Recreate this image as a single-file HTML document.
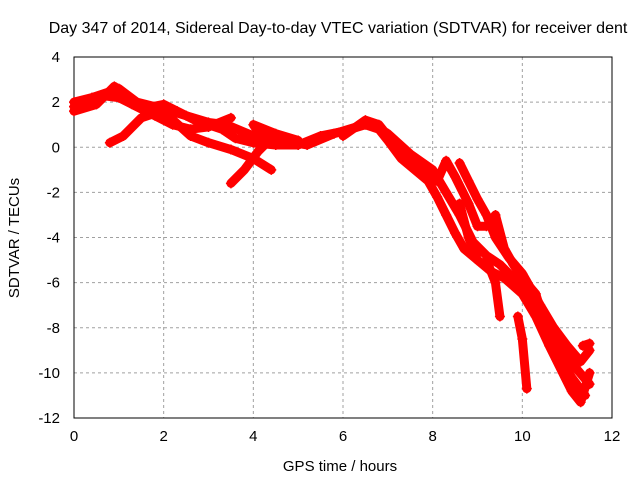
<!DOCTYPE html>
<html><head><meta charset="utf-8"><style>
body{margin:0;background:#fff}
svg text{font-family:"Liberation Sans",sans-serif;font-size:15px;fill:#000}
svg text.title{font-size:16px}
</style></head><body>
<svg id="c" width="640" height="480"></svg>
<script>
const xTicks=[0,2,4,6,8,10,12];
const yTicks=[4,2,0,-2,-4,-6,-8,-10,-12];
const trackA=[[0,1.8],[0.3,2.1],[0.6,2.3],[1,2.2],[1.5,1.7],[2,1.9],[2.3,1.6],[2.7,1.2],[3,1.0],[3.3,0.8],[3.6,0.4],[4,0.2],[4.5,0.1],[5,0.1],[5.5,0.5],[6,0.7],[6.5,1.0],[6.8,0.8],[7,0.3],[7.3,-0.5],[7.6,-1.0],[7.9,-1.5],[8.1,-2.2],[8.3,-3],[8.5,-3.8],[8.7,-4.5],[9,-5],[9.3,-5.5],[9.6,-5.8],[10,-6.5],[10.3,-7.5],[10.6,-8.8],[10.9,-10],[11.1,-10.8],[11.3,-11.3],[11.5,-10]];
const trackA2=[[0,2.0],[0.4,2.2],[1.0,2.6],[1.4,2.0],[2.0,1.7],[2.5,1.4],[3,1.1],[3.4,1.0],[4,0.5],[4.6,0.3],[5.2,0.1],[5.8,0.6],[6.3,0.9],[6.6,1.1],[7.0,0.6],[7.5,-0.3],[8,-1.0],[8.3,-2.0],[8.6,-3.0],[8.9,-4.2],[9.2,-4.8],[9.5,-5.2],[9.9,-6.0],[10.2,-7.0],[10.5,-8.2],[10.8,-9.2],[11.1,-10.2],[11.4,-11.0]];
const trackB=[[0,1.6],[0.5,1.9],[0.9,2.7],[1.1,2.4],[1.3,1.9],[1.8,1.4],[2.2,1.0],[2.6,0.8],[3,0.9],[3.5,1.3]];
const trackC=[[0.8,0.2],[1.1,0.5],[1.5,1.3],[1.8,1.5],[2.1,1.4],[2.6,0.5],[3,0.2],[3.5,-0.1],[4,-0.5],[4.4,-1.0]];
const trackD=[[3.5,-1.6],[3.8,-1.0],[4.1,-0.2],[4.3,0.2],[4.1,0.7],[4.0,1.0],[4.5,0.6],[5,0.3]];
const trackE=[[6,0.5],[6.5,1.2],[6.8,1.0],[7.2,0.0],[7.6,-0.7],[8,-1.2],[8.1,-1.5],[8.3,-0.6],[8.5,-1.3],[8.8,-2.5],[9,-3.5],[9.2,-3.5],[9.4,-3.0],[9.6,-4.5],[9.8,-5.2],[10,-5.8],[10.3,-6.5],[10.5,-7.8],[10.8,-8.5],[11,-9.3],[11.2,-9.8],[11.5,-10.5]];
const trackE2=[[8.6,-0.7],[8.8,-1.5],[9.0,-2.3],[9.2,-3.0],[9.4,-4.0],[9.7,-4.9],[10.0,-5.6],[10.4,-7.0],[10.7,-8.0],[11.0,-8.8],[11.3,-9.5],[11.5,-9.0]];
const trackF=[[9.9,-7.5],[10.0,-8.5],[10.1,-10.7]];
const trackG=[[11.35,-8.8],[11.5,-8.7]];
const trackH=[[9.2,-5.0],[9.4,-6.0],[9.5,-7.5]];
const trackI=[[8.6,-2.5],[8.8,-4.0],[9.0,-5.0]];
const tracks=[trackA,trackA2,trackB,trackC,trackD,trackE,trackE2,trackF,trackG,trackH,trackI];

const L=74,R=612,T=57,B=418;
const X=h=>L+(h-0)/12*(R-L);
const Y=v=>T+(4-v)/16*(B-T);
const NS="http://www.w3.org/2000/svg";
const svg=document.getElementById('c');
function mk(t,a){const e=document.createElementNS(NS,t);for(const k in a)e.setAttribute(k,a[k]);svg.appendChild(e);return e;}

xTicks.forEach(t=>{
  const g=mk('line',{x1:X(t),x2:X(t),y1:T,y2:B,stroke:'#a0a0a0','stroke-dasharray':'3,3'});
  
  
  const tx=mk('text',{x:X(t),y:B+23,'text-anchor':'middle'});tx.textContent=t;
  
  
});
yTicks.forEach(t=>{
  const g=mk('line',{x1:L,x2:R,y1:Y(t),y2:Y(t),stroke:'#a0a0a0','stroke-dasharray':'3,3'});
  
  
  const tx=mk('text',{x:L-14,y:Y(t)+5,'text-anchor':'end'});tx.textContent=t;
  
  
});
const f=mk('rect',{x:L,y:T,width:R-L,height:B-T,fill:'none',stroke:'#000'});



tracks.forEach(tr=>{
  const p=mk('polyline',{points:tr.map(d=>X(d[0])+','+Y(d[1])).join(' '),fill:'none',stroke:'#ff0000','stroke-width':9,'stroke-linejoin':'round','stroke-linecap':'round'});
  
  
  tr.forEach(d=>{
    const m=mk('path',{d:`M${X(d[0])-5},${Y(d[1])}h10M${X(d[0])},${Y(d[1])-5}v10`,stroke:'#ff0000','stroke-width':1.5});
    
    
  });
});

let t=mk('text',{x:338,y:33,'text-anchor':'middle','class':'title'});t.textContent='Day 347 of 2014, Sidereal Day-to-day VTEC variation (SDTVAR) for receiver dent';


t=mk('text',{x:340,y:471,'text-anchor':'middle'});t.textContent='GPS time / hours';


t=mk('text',{x:19,y:238,'text-anchor':'middle',transform:'rotate(-90 19 238)'});t.textContent='SDTVAR / TECUs';


</script>
</body></html>
